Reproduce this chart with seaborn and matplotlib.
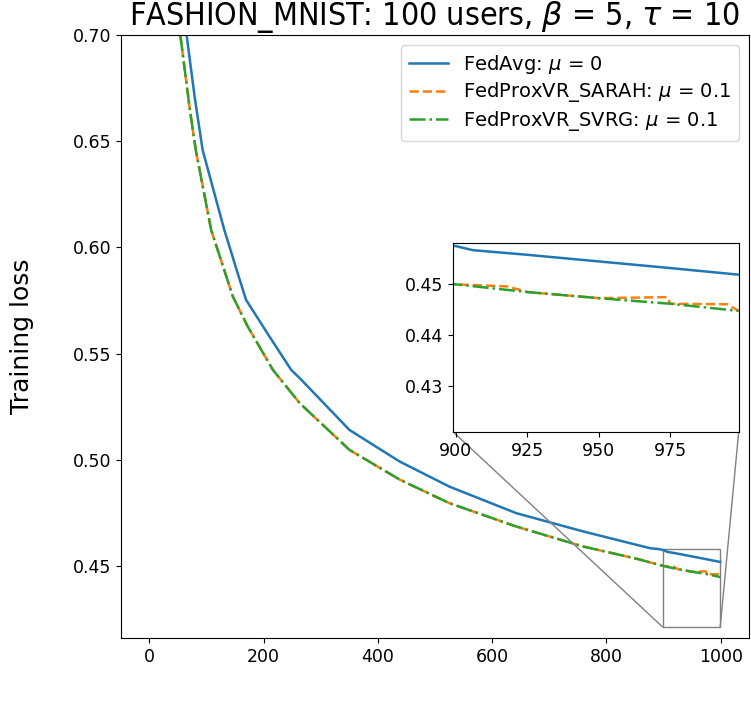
import seaborn as sns
import matplotlib.pyplot as plt
from mpl_toolkits.axes_grid1.inset_locator import mark_inset

# values (global round, training loss)
fedavg_rounds = [65, 79, 93, 131, 158, 169, 210, 248, 263, 350, 438, 525, 642, 759, 876,
                 893, 900, 906, 925, 950, 975, 999]
fedavg_loss = [0.700, 0.671, 0.6459, 0.6082, 0.5847, 0.5753, 0.5580, 0.5423, 0.5384,
               0.5140, 0.4991, 0.4873, 0.4748, 0.4662, 0.4583, 0.4578, 0.4574, 0.4566, 0.4557,
               0.4544, 0.4531, 0.4518]

sarah_rounds = [54, 70, 81, 108, 146, 172, 216, 263, 350, 438, 525, 642, 759, 853,
                900, 918, 925, 950, 974, 975, 995, 999]
sarah_loss = [0.700, 0.6662, 0.6459, 0.6082, 0.5768, 0.5627, 0.5423,
              0.5266, 0.5046, 0.4906, 0.4795, 0.4685, 0.4591, 0.4533, 0.4499, 0.4495, 0.4484,
              0.4472, 0.4474, 0.4461, 0.4460, 0.4447]

svrg_rounds = [54, 70, 81, 108, 146, 172, 216, 263, 350, 438, 525, 642, 759, 853,
               900, 925, 950, 975, 999]
svrg_loss = [0.700, 0.6662, 0.6459, 0.6082, 0.5768, 0.5627, 0.5423,
             0.5266, 0.5046, 0.4906, 0.4795, 0.4685, 0.4591, 0.4533, 0.4499, 0.4484, 0.4472,
             0.4461, 0.4447]

labels = ['FedAvg: $\\mu$ = 0', 'FedProxVR_SARAH: $\\mu$ = 0.1', 'FedProxVR_SVRG: $\\mu$ = 0.1']
colors = ['tab:blue', 'tab:orange', 'tab:green']
styles = ['-', '--', '-.']
series = [(fedavg_rounds, fedavg_loss), (sarah_rounds, sarah_loss), (svrg_rounds, svrg_loss)]

fig = plt.figure(figsize=(7.51, 7.11), dpi=100)
ax = fig.add_axes([0.161, 0.1027, 0.836, 0.848])

for (r, l), lab, c, ls in zip(series, labels, colors, styles):
    sns.lineplot(x=r, y=l, ax=ax, label=lab, color=c, linestyle=ls, linewidth=1.8)

ax.set_xlim(-50, 1049)
ax.set_ylim(0.416, 0.70)
ax.set_xticks([0, 200, 400, 600, 800, 1000])
ax.set_yticks([0.45, 0.50, 0.55, 0.60, 0.65, 0.70])
ax.tick_params(labelsize=12.5)
ax.set_ylabel('Training loss', fontsize=18, labelpad=28)
ax.set_title('FASHION_MNIST: 100 users, $\\beta$ = 5, $\\tau$ = 10', fontsize=23, fontstretch='condensed')
ax.legend(loc='upper right', fontsize=14, frameon=True, labelspacing=0.25)

# zoomed inset over the last rounds
axins = ax.inset_axes([0.529, 0.342, 0.455, 0.313])
for (r, l), c, ls in zip(series, colors, styles):
    sns.lineplot(x=r, y=l, ax=axins, color=c, linestyle=ls, linewidth=1.8, legend=False)
axins.set_xlim(899, 999)
axins.set_ylim(0.421, 0.458)
axins.set_xticks([900, 925, 950, 975])
axins.set_yticks([0.43, 0.44, 0.45])
axins.tick_params(labelsize=12.5)
mark_inset(ax, axins, loc1=3, loc2=4, fc='none', ec='0.5')

fig.savefig('out.png', dpi=100)
